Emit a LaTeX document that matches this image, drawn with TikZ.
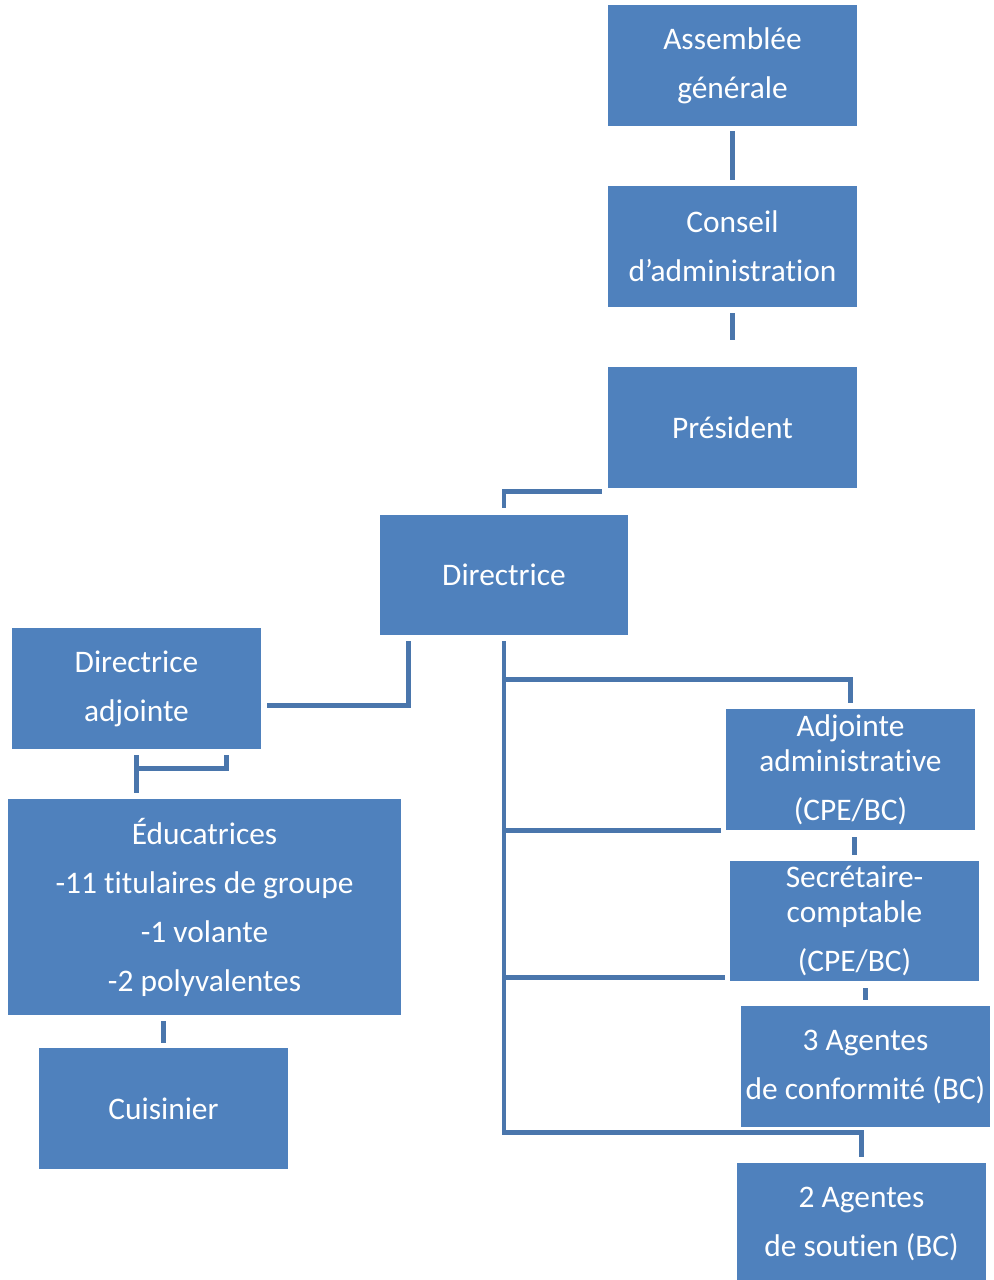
\documentclass[tikz,border=0pt]{standalone}
\usepackage{fontspec}
\setmainfont{Carlito}[Ligatures=NoCommon]
\usepackage{xcolor}
\usepackage{tikz}
\usetikzlibrary{calc,positioning}

\definecolor{boxblue}{RGB}{79,129,189}
\definecolor{linkblue}{RGB}{74,118,172}

\tikzset{
	box/.style={rectangle, fill=boxblue, text=white, align=center, inner sep=0pt,
		minimum width=124.5pt, minimum height=60.5pt,
		font=\fontsize{15.7pt}{24.5pt}\selectfont},
	link/.style={draw=linkblue, line width=2.4pt}
}

\begin{document}
\begin{tikzpicture}[x=0.5pt, y=-0.5pt, node distance=90.5pt]
		
		\useasboundingbox (0,0) rectangle (993,1280);
		
		% colonne du haut
		\node (AG) [box] at (732.5,65.5) {Assemblée\\générale};
		
		\node (CA) [box, below of= AG] {Conseil\\d’administration};
		
		\node (Pres) [box, below of= CA] {Président};
		
		\node (Dir) [box, minimum width=124pt, minimum height=60pt] at (504,575) {Directrice};
		
		% cote gauche
		\node (Dir_adj) [box] at (136.5,688.5) {Directrice\\adjointe};
		
		\node (Educ) [box, minimum width=196.5pt, minimum height=108pt] at (204.5,907) {Éducatrices\\-11 titulaires de groupe\\-1 volante\\-2 polyvalentes};
		
		\node (Cuis) [box] at (163.5,1108.5) {Cuisinier};
		
		% cote droit
		\node (Adj_adm) [box] at (850.5,769.5) {Adjointe\\[-7pt]administrative\\(CPE/BC)};
		
		\node (Sec_c) [box, minimum height=60pt] at (854.5,921) {Secrétaire-\\[-7pt]comptable\\(CPE/BC)};
		
		\node (Ag_conf) [box] at (865.5,1066.5) {3 Agentes\\de conformité (BC)};
		
		\node (Ag_sout) [box] at (861.5,1223.5) {2 Agentes\\de soutien (BC)};
		
		
		\draw [link] ($(AG.south)+(0,5)$) -- ($(CA.north)+(0,-6)$);
		
		\draw [link] ($(CA.south)+(0,6)$) -- ($(Pres.north)+(0,-27)$);
		
		\draw [link] ($(Pres.south west)+(-6,3)$) -| ($(Dir.north)+(0,-7)$);
		
		\draw [link] ($(Dir.south west)+(29,6)$) |- ($(Dir_adj.east)+(6,17)$);
		
		\coordinate (adj_knee) at ($(Dir_adj.south)+(0,19)$);
		
		\draw [link] ($(Dir_adj.south east)+(-35,6)$) |- (adj_knee);
		
		\draw [link] ($(Dir_adj.south)+(0,6)$) -- ($(Dir_adj.south |- Educ.north)+(0,-6)$);
		
		\draw [link] ($(Educ.south -| Cuis.north)+(0,6)$) -- ($(Cuis.north)+(0,-5)$);
		
		% tronc de la directrice
		\coordinate (trunk_end) at ($(Dir.south |- Ag_sout.north)+(0,-30)$);
		
		\draw [link] ($(Dir.south)+(0,6)$) -- (trunk_end) -| ($(Ag_sout.north)+(0,-6)$);
		
		\draw [link] ($(Dir.south)+(0,44)$) -| ($(Adj_adm.north)+(0,-6)$);
		
		\draw [link] (Dir.south |- Adj_adm.south west) -- ($(Adj_adm.south west)+(-5,0)$);
		
		\draw [link] ($(Dir.south |- Sec_c.south west)+(0,-4)$) -- ($(Sec_c.south west)+(-5,-4)$);
		
		\draw [link] ($(Adj_adm.south -| Sec_c.north)+(0,7)$) -- ($(Sec_c.north)+(0,-6)$);
		
		\draw [link] ($(Sec_c.south -| Ag_conf.north)+(0,7)$) -- ($(Ag_conf.north)+(0,-6)$);
		
\end{tikzpicture}
\end{document}
